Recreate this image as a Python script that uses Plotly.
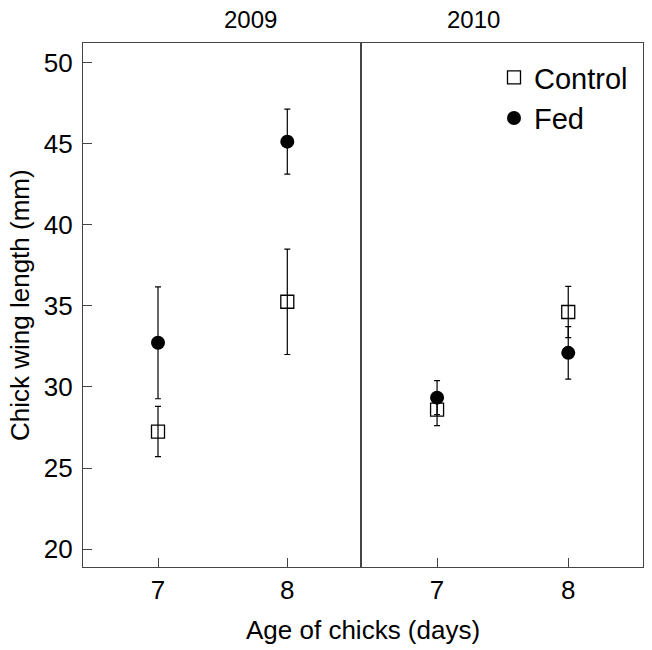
import plotly.graph_objects as go

years = ["2009", "2010"]
ages = [7, 8]
control_mean = {"2009": [27.25, 35.25], "2010": [28.6, 34.62]}
control_se = {"2009": [1.55, 3.25], "2010": [0.98, 1.58]}
fed_mean = {"2009": [32.72, 45.12], "2010": [29.34, 32.1]}
fed_se = {"2009": [3.45, 2.0], "2010": [1.05, 1.62]}

# page body has an 8px default margin, so the figure is drawn 8px in from the top-left
OFF = 8
W, H = 652 - OFF, 650 - OFF
ml, mr, mt, mb = 83 - OFF, 9, 43 - OFF, 83
pw = W - ml - mr
ph = H - mt - mb
split = (361 - 83) / pw

FONT = "Liberation Sans, Arial, Helvetica, sans-serif"
LC = "#444"

fig = go.Figure()
axes = [("x", "y"), ("x2", "y2")]
for i, yr in enumerate(years):
    xa, ya = axes[i]
    fig.add_trace(go.Scatter(
        x=ages, y=control_mean[yr], mode="markers", name="Control",
        xaxis=xa, yaxis=ya, showlegend=(i == 1), legendgroup="c",
        marker=dict(symbol="square-open", size=13, color="black",
                    line=dict(width=1.3, color="black")),
        error_y=dict(type="data", array=control_se[yr], color="black",
                     thickness=1.2, width=3),
    ))
    fig.add_trace(go.Scatter(
        x=ages, y=fed_mean[yr], mode="markers", name="Fed",
        xaxis=xa, yaxis=ya, showlegend=(i == 1), legendgroup="f",
        marker=dict(symbol="circle", size=14, color="black"),
        error_y=dict(type="data", array=fed_se[yr], color="black",
                     thickness=1.2, width=3),
    ))

xcommon = dict(range=[6.42, 8.57], tickvals=ages, ticks="inside", ticklen=9,
               tickcolor=LC, showline=True, linecolor=LC, linewidth=1.2,
               mirror=True, showgrid=False, zeroline=False, automargin=False,
               tickfont=dict(family=FONT, size=26, color="black"))
ycommon = dict(range=[18.9, 51.2], showline=True, linecolor=LC, linewidth=1.2,
               mirror=True, showgrid=False, zeroline=False, automargin=False)

fig.update_layout(
    width=W, height=H,
    margin=dict(l=ml, r=mr, t=mt, b=mb, autoexpand=False),
    paper_bgcolor="white", plot_bgcolor="white",
    font=dict(family=FONT, color="black"),
    xaxis=dict(domain=[0, split], anchor="y", **xcommon),
    xaxis2=dict(domain=[split, 1], anchor="y2", **xcommon),
    yaxis=dict(anchor="x", tickvals=[20, 25, 30, 35, 40, 45, 50], ticks="inside",
               ticklen=9, tickcolor=LC, ticklabelstandoff=4,
               tickfont=dict(family=FONT, size=26, color="black"), **ycommon),
    yaxis2=dict(anchor="x2", showticklabels=False, ticks="", **ycommon),
    legend=dict(x=(494 - 83) / pw, y=1 - (52 - 43) / ph, xanchor="left",
                yanchor="top", bgcolor="rgba(0,0,0,0)",
                font=dict(family=FONT, size=29, color="black"),
                tracegroupgap=0),
    showlegend=True,
)

ann = [
    dict(text="2009", x=split / 2, y=1, xref="paper", yref="paper",
         yanchor="bottom", yshift=8, showarrow=False, font=dict(size=24)),
    dict(text="2010", x=(split + 1) / 2, y=1, xref="paper", yref="paper",
         yanchor="bottom", yshift=8, showarrow=False, font=dict(size=24)),
    dict(text="Age of chicks (days)", x=0.5, y=0, xref="paper", yref="paper",
         yanchor="top", yshift=-46, showarrow=False, font=dict(size=26)),
    dict(text="Chick wing length (mm)", x=0, y=0.5, xref="paper", yref="paper",
         xanchor="right", xshift=-46, textangle=-90, showarrow=False,
         font=dict(size=26)),
]
fig.update_layout(annotations=ann)

fig.write_html("out.html")
